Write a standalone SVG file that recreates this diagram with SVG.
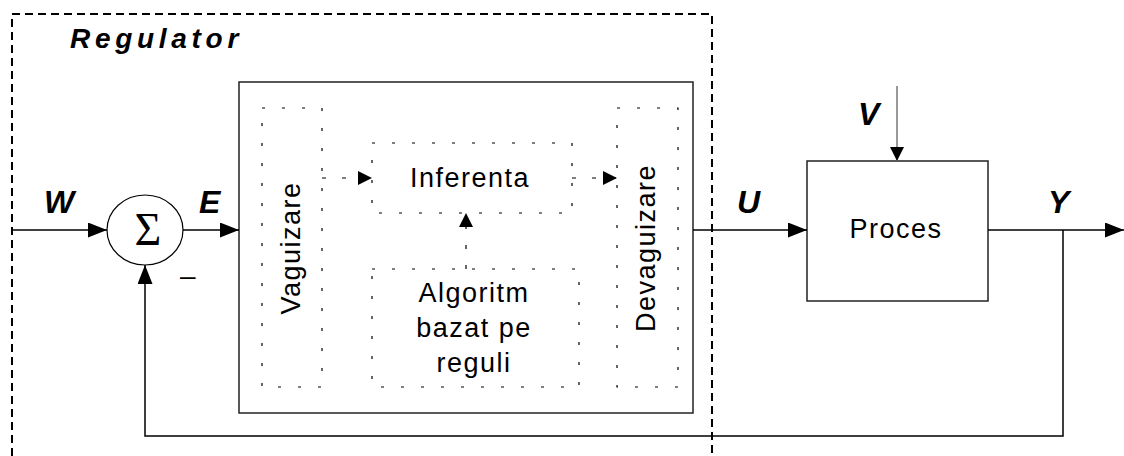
<svg xmlns="http://www.w3.org/2000/svg" width="1124" height="456" viewBox="0 0 1124 456">
<style>
.lbl{font-family:"Liberation Sans",Arial,sans-serif;font-weight:bold;font-style:italic;font-size:32px;fill:#000}
.txt{font-family:"Liberation Sans",Arial,sans-serif;font-size:27px;letter-spacing:1.5px;fill:#000;text-anchor:middle}
.box{fill:#fff;stroke:#222;stroke-width:1.5}
.dot{fill:none;stroke:#000;stroke-width:1.2;stroke-dasharray:3 17}
.ln{fill:none;stroke:#000;stroke-width:1.5}
.dln{fill:none;stroke:#000;stroke-width:1.2;stroke-dasharray:4 16}
</style>
<defs>
<marker id="ah" viewBox="0 0 19 15" refX="19" refY="7.5" markerWidth="19" markerHeight="15" markerUnits="userSpaceOnUse" orient="auto"><path d="M0,0L19,7.5L0,15Z" fill="#000"/></marker>
<marker id="as" viewBox="0 0 14 14" refX="14" refY="7" markerWidth="14" markerHeight="14" markerUnits="userSpaceOnUse" orient="auto"><path d="M0,0L14,7L0,14Z" fill="#000"/></marker>
</defs>
<g id="regulator-boundary">
<path d="M12,456V14H712V456" fill="none" stroke="#000" stroke-width="2" stroke-dasharray="8 5"/>
<text class="lbl" x="70" y="48" style="font-size:28px;letter-spacing:4.7px">Regulator</text>
</g>
<g id="controller">
<rect class="box" x="239" y="82" width="454" height="331"/>
</g>
<g id="vaguizare">
<rect class="dot" x="262" y="108" width="60" height="279"/>
<text class="txt" transform="translate(300,248) rotate(-90)">Vaguizare</text>
</g>
<g id="inferenta">
<rect class="dot" x="372" y="143" width="200" height="70"/>
<text class="txt" x="470" y="187">Inferenta</text>
</g>
<g id="algoritm">
<rect class="dot" x="372" y="269" width="207" height="118"/>
<text class="txt" x="474" y="302">Algoritm</text>
<text class="txt" x="474" y="337">bazat pe</text>
<text class="txt" x="474" y="372">reguli</text>
</g>
<g id="devaguizare">
<rect class="dot" x="617" y="108" width="61" height="279"/>
<text class="txt" transform="translate(655,248) rotate(-90)">Devaguizare</text>
</g>
<g id="sum">
<ellipse cx="145" cy="230" rx="38" ry="35" fill="#fff" stroke="#000" stroke-width="1.2"/>
<text x="148" y="245" style="font-family:'Liberation Serif','Times New Roman',serif;font-size:46px;text-anchor:middle">Σ</text>
</g>
<g id="proces">
<rect class="box" x="807" y="161" width="181" height="140"/>
<text class="txt" x="896" y="238">Proces</text>
</g>
<g id="connectors">
<line class="ln" x1="12" y1="230" x2="107" y2="230" marker-end="url(#ah)"/>
<line class="ln" x1="183" y1="230" x2="239" y2="230" marker-end="url(#ah)"/>
<line class="ln" x1="693" y1="230" x2="807" y2="230" marker-end="url(#ah)"/>
<line class="ln" x1="988" y1="230" x2="1124" y2="230" marker-end="url(#ah)"/>
<line x1="897" y1="86" x2="897" y2="161" stroke="#777" stroke-width="1.5" marker-end="url(#as)"/>
<path class="ln" d="M1063,230V436H145V265" marker-end="url(#ah)"/>
<line class="dln" x1="322" y1="178" x2="372" y2="178" marker-end="url(#as)"/>
<line class="dln" x1="572" y1="178" x2="617" y2="178" marker-end="url(#as)"/>
<line class="dln" x1="466" y1="269" x2="466" y2="213" marker-end="url(#as)"/>
</g>
<g id="labels">
<text class="lbl" x="44" y="213">W</text>
<text class="lbl" x="199" y="213">E</text>
<text class="lbl" x="737" y="213">U</text>
<text class="lbl" x="858" y="125">V</text>
<text class="lbl" x="1048" y="213">Y</text>
<text x="180" y="285" style="font-family:'Liberation Sans',Arial,sans-serif;font-size:28px">–</text>
</g>
</svg>
